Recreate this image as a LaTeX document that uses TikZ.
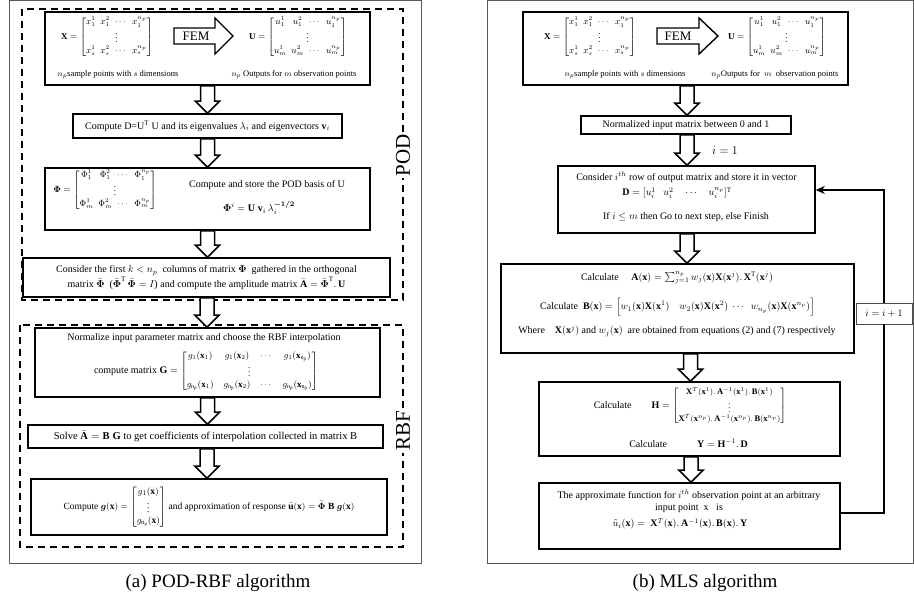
\documentclass[tikz,border=0pt]{standalone}
\usepackage{amsmath,amssymb}
\usepackage{fontspec}
\setmainfont{Liberation Serif}
\usetikzlibrary{calc,arrows.meta}
\tikzset{
  frame/.style={draw=black!65, line width=0.8pt},
  dbox/.style={draw, line width=1.5pt, dash pattern=on 7pt off 5pt},
  box/.style={draw, line width=1.6pt, fill=white, inner sep=0pt, align=center, font=\fontsize{10}{13}\selectfont},
  txt/.style={inner sep=0pt, align=center, font=\fontsize{10}{12}\selectfont},
  smalltxt/.style={inner sep=0pt, font=\fontsize{8.5}{10}\selectfont},
  mat/.style={inner sep=0pt, font=\fontsize{9}{10.5}\selectfont},
  barrow/.style={draw, line width=1.5pt, fill=white, line join=miter},
  femarrow/.style={draw, line width=1.4pt, fill=white, line join=miter},
  femtxt/.style={inner sep=0pt, font=\fontsize{13}{14}\selectfont},
  sidelabel/.style={rotate=90, fill=white, inner sep=2pt, font=\fontsize{21}{21}\selectfont},
  captiontxt/.style={inner sep=0pt, font=\fontsize{19}{20}\selectfont},
  loopline/.style={line width=1.5pt},
  incbox/.style={draw=black!70, line width=0.8pt, fill=white, inner sep=0pt, minimum width=56pt, minimum height=21pt, font=\fontsize{10}{12}\selectfont},
}
\newcommand{\blockarr}[3]{%
  \path[barrow] let \p1=(#1.south), \p2=(#2.north) in
  (\x1+#3pt-7pt,\y1) -- (\x1+#3pt-7pt,\y2+12pt) -- (\x1+#3pt-12pt,\y2+12pt) -- (\x1+#3pt,\y2)
  -- (\x1+#3pt+12pt,\y2+12pt) -- (\x1+#3pt+7pt,\y2+12pt) -- (\x1+#3pt+7pt,\y1) -- cycle;}
\setlength{\arraycolsep}{2.5pt}
\begin{document}
\begin{tikzpicture}[x=1pt,y=-1pt]
\useasboundingbox (0,0) rectangle (914,600);
% ---------------- LEFT PANEL ----------------
\draw[frame] (9,0.5) rectangle (421,563);
\draw[dbox] (22,9) rectangle (403,300);
\draw[dbox] (20,325) rectangle (403,547);

\node[box, minimum width=325pt, minimum height=73pt] (femL) at (207.5,48.5) {};
\node[mat] (XL) at (107,37) {$\mathbf X=\begin{bmatrix} x_1^1 & x_1^2 & \cdots & x_1^{n_p}\\ \multicolumn{4}{c}{\vdots}\\ x_s^1 & x_s^2 & \cdots & x_s^{n_p}\end{bmatrix}$};
\node[mat] (UL) at (298,37) {$\mathbf U=\begin{bmatrix} u_1^1 & u_1^2 & \cdots & u_1^{n_p}\\ \multicolumn{4}{c}{\vdots}\\ u_m^1 & u_m^2 & \cdots & u_m^{n_p}\end{bmatrix}$};
\draw[femarrow] (174,28) -- (215,28) -- (215,18) -- (233,36) -- (215,54) -- (215,44) -- (174,44) -- cycle;
\node[femtxt] (fL) at (196,36) {FEM};
\node[smalltxt] (sL) at (118,75) {$n_p$sample points with $s$ dimensions};
\node[smalltxt] (oL) at (294,75) {$n_p$ Outputs for $m$ observation points};

\node[box, minimum width=269pt, minimum height=24pt] (eig) at (207.5,126) {Compute D=U$^{\mathrm T}$ U and its eigenvalues $\lambda_i$ and eigenvectors $\mathbf v_i$};

\node[box, minimum width=325pt, minimum height=62pt] (phi) at (207.5,199) {};
\node[mat] (phim) at (105,190) {$\boldsymbol\Phi=\begin{bmatrix}\Phi_1^1 & \Phi_1^2 & \cdots & \Phi_1^{n_p}\\ \multicolumn{4}{c}{\vdots}\\ \Phi_m^1 & \Phi_m^2 & \cdots & \Phi_m^{n_p}\end{bmatrix}$};
\node[txt] (phit) at (267,185) {Compute and store the POD basis of U};
\node[txt] (phif) at (259,208) {$\boldsymbol\Phi^i=\mathbf U\;\mathbf v_i\,\lambda_i^{\boldsymbol{-1/2}}$};

\node[box, minimum width=367pt, minimum height=39pt] (trunc) at (206.5,277.5) {Consider the first $k<n_p$\ \ columns of matrix $\boldsymbol\Phi$\ \ gathered in the orthogonal\\ matrix $\bar{\boldsymbol\Phi}$\ \ ($\bar{\boldsymbol\Phi}^{\mathrm T}\,\bar{\boldsymbol\Phi}=I$) and compute the amplitude matrix $\bar{\mathbf A}=\bar{\boldsymbol\Phi}^{\mathrm T}.\,\mathbf U$};

\node[box, minimum width=345pt, minimum height=69pt] (norm) at (207.5,362.5) {};
\node[txt] (normt) at (204,338) {Normalize input parameter matrix and choose the RBF interpolation};
\node[txt] (Gm) at (206,371) {compute matrix $\mathbf G=\mbox{\fontsize{9}{10.5}\selectfont$\setlength{\arraycolsep}{5pt}\begin{bmatrix} g_1(\mathbf x_1) & g_1(\mathbf x_2) & \cdots & g_1(\mathbf x_{\mathrm{n_p}})\\ \multicolumn{4}{c}{\vdots}\\ g_{\mathrm{n_p}}(\mathbf x_1) & g_{\mathrm{n_p}}(\mathbf x_2) & \cdots & g_{\mathrm{n_p}}(\mathbf x_{\mathrm{n_p}})\end{bmatrix}$}$};

\node[box, minimum width=355pt, minimum height=23pt, font=\fontsize{10.5}{12}\selectfont] (solve) at (205.5,436.5) {Solve $\bar{\mathbf A}=\mathbf B\;\mathbf G$ to get coefficients of interpolation collected in matrix B};

\node[box, minimum width=356pt, minimum height=56pt, font=\fontsize{9.5}{11}\selectfont] (gbox) at (209,507) {Compute $\boldsymbol g(\mathbf x)=\begin{bmatrix} g_1(\mathbf x)\\ \vdots\\ g_{\mathrm{n_p}}(\mathbf x)\end{bmatrix}$ and approximation of response $\bar{\mathbf u}(\mathbf x)=\bar{\boldsymbol\Phi}\;\mathbf B\;\boldsymbol g(\mathbf x)$};

\blockarr{femL}{eig}{0}
\blockarr{eig}{phi}{0}
\blockarr{phi}{trunc}{0}
\blockarr{trunc}{norm}{0.5}
\blockarr{norm}{solve}{0}
\blockarr{solve}{gbox}{1.5}

\node[sidelabel] (pod) at (403,155) {POD};
\node[sidelabel] (rbf) at (403,431) {RBF};
\node[captiontxt] (capa) at (218,583) {(a) POD-RBF algorithm};

% ---------------- RIGHT PANEL ----------------
\draw[frame] (487,0.5) rectangle (913,563);

\node[box, minimum width=325pt, minimum height=73pt] (femR) at (685.5,48.5) {};
\node[mat] (XR) at (590,37) {$\mathbf X=\begin{bmatrix} x_1^1 & x_1^2 & \cdots & x_1^{n_p}\\ \multicolumn{4}{c}{\vdots}\\ x_s^1 & x_s^2 & \cdots & x_s^{n_p}\end{bmatrix}$};
\node[mat] (UR) at (777,37) {$\mathbf U=\begin{bmatrix} u_1^1 & u_1^2 & \cdots & u_1^{n_p}\\ \multicolumn{4}{c}{\vdots}\\ u_m^1 & u_m^2 & \cdots & u_m^{n_p}\end{bmatrix}$};
\draw[femarrow] (657,28) -- (699,28) -- (699,18) -- (718,36) -- (699,54) -- (699,44) -- (657,44) -- cycle;
\node[femtxt] (fR) at (678,36) {FEM};
\node[smalltxt] (sR) at (625,75) {$n_p$sample points with $s$ dimensions};
\node[smalltxt] (oR) at (775,75) {$n_p$Outputs for\ \ $m$\ \ observation points};

\node[box, minimum width=210pt, minimum height=18pt] (normR) at (686,125) {Normalized input matrix between 0 and 1};
\node[inner sep=0pt, font=\fontsize{11.5}{12}\selectfont] (ione) at (725,151) {$i=1$};

\node[box, minimum width=257pt, minimum height=67pt] (cons) at (686.5,199.5) {};
\node[txt] (c1) at (686.5,177) {Consider $i^{th}$ row of output matrix and store it in vector};
\node[txt] (c2) at (677,193) {$\mathbf D=[u_i^1\ \ \ u_i^2\ \ \ \ \cdots\ \ \ \ u_i^{n_p}]^{\mathrm T}$};
\node[txt] (c3) at (686,217) {If $i\le m$ then Go to next step, else Finish};

\node[box, minimum width=353pt, minimum height=89pt] (calc) at (677.5,308.5) {};
\node[txt] (a1) at (677,278) {Calculate\quad\ $\mathbf A(\mathbf x)=\sum_{j=1}^{n_p} w_j(\mathbf x)\mathbf X(\mathbf x^j).\,\mathbf X^{\mathrm T}(\mathbf x^j)$};
\node[txt] (a2) at (677.5,307) {Calculate\ \ $\mathbf B(\mathbf x)=\Big[w_1(\mathbf x)\mathbf X(\mathbf x^1)\quad w_2(\mathbf x)\mathbf X(\mathbf x^2)\ \cdots\ \ w_{n_p}(\mathbf x)\mathbf X(\mathbf x^{n_p})\Big]$};
\node[txt] (a3) at (677,331) {Where\quad $\mathbf X(\mathbf x^j)$ and $w_j(\mathbf x)$\ \ are obtained from equations (2) and (7) respectively};

\node[box, minimum width=301pt, minimum height=74pt] (hbox) at (689.5,419) {};
\node[txt] (h1) at (690,406) {Calculate\qquad $\mathbf H=\mbox{\fontsize{8.5}{9.5}\selectfont\renewcommand{\arraystretch}{0.9}$\begin{bmatrix}\mathbf X^T(\mathbf x^1).\,\mathbf A^{-1}(\mathbf x^1).\,\mathbf B(\mathbf x^1)\\ \vdots\\ \mathbf X^T(\mathbf x^{n_p}).\,\mathbf A^{-1}(\mathbf x^{n_p}).\,\mathbf B(\mathbf x^{n_p})\end{bmatrix}$}$};
\node[txt] (h2) at (688.5,443) {Calculate\qquad\quad $\mathbf Y=\mathbf H^{-1}.\,\mathbf D$};

\node[box, minimum width=301pt, minimum height=66pt] (final) at (689.5,516) {};
\node[txt] (f1) at (689,495) {The approximate function for $i^{th}$ observation point at an arbitrary};
\node[txt] (f2) at (689,508) {input point\ \ x\ \ \ is};
\node[txt] (f3) at (680,524) {$\tilde u_i(\mathbf x)=\ \mathbf X^T(\mathbf x).\,\mathbf A^{-1}(\mathbf x).\,\mathbf B(\mathbf x).\,\mathbf Y$};

\blockarr{femR}{normR}{1.5}
\blockarr{normR}{cons}{1}
\blockarr{cons}{calc}{0.5}
\blockarr{calc}{hbox}{13}
\blockarr{hbox}{final}{1.5}

\node[incbox] (iplus) at (884,313.5) {$i=i+1$};
\draw[loopline] ([yshift=3pt]final.east) -| (iplus.south);
\draw[loopline, -{Stealth[length=9pt,width=8pt]}] (iplus.north) |- ([yshift=9.5pt]cons.east);

\node[captiontxt] (capb) at (705,583) {(b) MLS algorithm};
\end{tikzpicture}
\end{document}
